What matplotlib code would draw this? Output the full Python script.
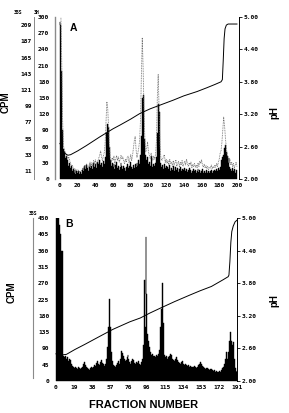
"""
Two-panel isoelectric focusing profile (3H / 35S CPM and pH vs fraction number)
"""

import numpy as np
import matplotlib
matplotlib.use('Agg')
import matplotlib.pyplot as plt
from matplotlib.lines import Line2D

# ---- panel A data ----
fracA = list(range(0, 201))
h3A = [290, 285, 200, 90, 55, 48, 38, 42, 30, 35, 25, 30, 20, 24, 15, 18, 12, 16, 10, 14,
       11, 15, 9, 13, 10, 16, 20, 14, 24, 18, 26, 20, 15, 22, 28, 20, 25, 18, 30, 22,
       27, 20, 32, 24, 28, 35, 26, 30, 22, 34, 28, 40, 55, 85, 102, 96, 60, 35, 25, 30,
       22, 28, 18, 26, 32, 20, 24, 16, 22, 30, 24, 18, 25, 20, 15, 22, 28, 20, 16, 24,
       32, 22, 18, 26, 20, 28, 22, 30, 25, 35, 28, 45, 80, 150, 156, 130, 75, 45, 35, 40,
       28, 32, 25, 42, 30, 22, 28, 24, 30, 40, 85, 138, 125, 60, 30, 22, 26, 18, 28, 20,
       24, 16, 22, 18, 26, 15, 20, 17, 24, 14, 19, 22, 16, 20, 13, 18, 22, 15, 19, 14,
       17, 21, 15, 18, 13, 16, 20, 14, 17, 12, 15, 19, 14, 16, 12, 15, 18, 13, 16, 12,
       14, 18, 12, 15, 11, 14, 17, 12, 15, 11, 14, 16, 12, 15, 13, 17, 14, 18, 15, 20,
       17, 22, 28, 35, 40, 45, 58, 63, 50, 42, 30, 38, 22, 18, 15, 20, 14, 18, 12, 16,
       14]
s35A = [230, 225, 160, 80, 45, 40, 36, 34, 30, 27, 30, 25, 21, 18, 19, 15, 13, 14, 11, 13,
        10, 12, 9, 11, 10, 13, 15, 14, 19, 16, 21, 17, 15, 20, 23, 18, 22, 17, 25, 21,
        26, 19, 23, 25, 29, 33, 38, 30, 25, 31, 35, 48, 78, 105, 95, 70, 42, 27, 23, 29,
        25, 31, 21, 27, 32, 25, 30, 23, 27, 32, 27, 30, 25, 21, 27, 23, 29, 31, 22, 27,
        33, 25, 32, 42, 52, 58, 40, 29, 35, 42, 52, 80, 140, 192, 150, 90, 52, 37, 42, 50,
        37, 32, 27, 35, 29, 25, 31, 27, 33, 52, 110, 142, 95, 47, 29, 25, 27, 31, 33, 22,
        27, 21, 25, 19, 27, 21, 23, 17, 25, 19, 22, 26, 17, 21, 24, 16, 23, 19, 25, 17,
        21, 24, 19, 27, 21, 17, 22, 19, 23, 15, 20, 17, 21, 16, 19, 15, 22, 17, 24, 21,
        26, 19, 16, 20, 15, 18, 14, 17, 13, 16, 15, 19, 14, 17, 15, 19, 16, 21, 17, 23,
        27, 35, 38, 50, 68, 84, 72, 55, 42, 33, 29, 23, 27, 19, 23, 17, 21, 15, 19, 23,
        17]
phFracA = [0, 3, 6, 9, 12, 20, 30, 45, 60, 68, 80, 90, 102, 115, 128, 140, 155, 166, 175,
           182, 183.5, 184.5, 185.5, 186.5, 188, 190, 200]
phA = [2.66, 2.55, 2.47, 2.44, 2.45, 2.52, 2.62, 2.78, 2.93, 3.00, 3.11, 3.21, 3.30, 3.38,
       3.46, 3.54, 3.62, 3.69, 3.75, 3.80, 3.84, 4.20, 4.60, 4.78, 4.85, 4.87, 4.87]

# ---- panel B data ----
fracB = list(range(0, 192))
s35B = [270, 460, 460, 460, 430, 405, 360, 360, 70, 65, 68, 60, 66, 55, 62, 58, 48, 42, 40, 38,
        36, 40, 35, 33, 38, 36, 32, 35, 40, 48, 52, 45, 38, 35, 32, 30, 35, 38, 33, 36,
        40, 45, 42, 50, 56, 48, 44, 52, 58, 50, 46, 42, 48, 60, 95, 150, 225, 210, 150, 80,
        55, 45, 42, 38, 45, 50, 55, 48, 62, 82, 78, 70, 62, 55, 58, 66, 72, 60, 52, 48,
        55, 62, 58, 50, 46, 52, 50, 55, 48, 45, 52, 60, 100, 280, 150, 398, 240, 130, 110, 95,
        80, 72, 75, 68, 70, 65, 72, 68, 75, 85, 150, 200, 270, 160, 90, 72, 65, 68, 62, 66,
        70, 75, 72, 62, 58, 55, 60, 65, 58, 52, 50, 48, 52, 55, 50, 47, 45, 48, 44, 42,
        45, 40, 42, 40, 38, 40, 42, 38, 36, 40, 44, 48, 52, 50, 46, 42, 38, 36, 34, 35,
        36, 33, 30, 32, 34, 30, 28, 30, 26, 28, 25, 24, 26, 28, 25, 30, 35, 40, 48, 60,
        80, 60, 80, 110, 135, 110, 100, 108, 60, 35, 25, 28]
phFracB = [0, 6, 11, 20, 30, 46, 60, 78, 89, 99, 110, 125, 141, 152, 164, 176, 181.7, 182.5,
           183.5, 184.5, 185.5, 187, 189, 191]
phB = [2.50, 2.48, 2.49, 2.58, 2.67, 2.82, 2.95, 3.09, 3.16, 3.25, 3.34, 3.46, 3.58, 3.66,
       3.74, 3.86, 3.92, 3.95, 4.20, 4.55, 4.75, 4.85, 4.93, 4.96]

# ---- tick labels ----
xticksA = [0, 20, 40, 60, 80, 100, 120, 140, 160, 180, 200]
yticksA3H = [0, 30, 60, 90, 120, 150, 180, 210, 240, 270, 300]
yticksA35S = [11, 33, 55, 77, 99, 121, 143, 165, 187, 209]
xticksB = [0, 19.1, 38.2, 57.3, 76.4, 95.5, 114.6, 133.7, 152.8, 171.9, 191]
xlabelsB = ['0', '19', '38', '57', '76', '96', '115', '134', '153', '172', '191']
yticksB = [0, 45, 90, 135, 180, 225, 270, 315, 360, 405, 450]
phTicks = [2.00, 2.60, 3.20, 3.80, 4.40, 5.00]

W, H = 289, 413
mono = 'DejaVu Sans Mono'
tickfs = 4.5
grey = '#8a8a8a'


def px(x0, y0, x1, y1):
    """pixel box (left, top, right, bottom) -> figure rect"""
    return [x0 / W, 1 - y1 / H, (x1 - x0) / W, (y1 - y0) / H]


def styleTicks(ax):
    for lab in ax.get_xticklabels() + ax.get_yticklabels():
        lab.set_fontfamily(mono)
        lab.set_fontweight('bold')
        lab.set_fontsize(tickfs)


def histo(ax, x, y):
    # solid step histogram, one bin per fraction
    ax.fill_between(x, y, step='mid', color='black', linewidth=0.3, edgecolor='black')


fig = plt.figure(figsize=(W / 100, H / 100), dpi=100)

# ================= panel A =================
axA = fig.add_axes(px(55, 17, 239, 179))
histo(axA, fracA, h3A)
axA.set_xlim(-5.6, 202.3)
axA.set_ylim(0, 300)
axA.set_xticks(xticksA)
axA.set_yticks(yticksA3H)
axA.tick_params(axis='x', length=0, pad=3)
axA.tick_params(axis='y', length=0, pad=4.2)
for s in ['top', 'right', 'bottom']:
    axA.spines[s].set_visible(False)
axA.spines['left'].set_color(grey)
axA.spines['left'].set_linewidth(1.0)
styleTicks(axA)

# 35S scale
axS = axA.twinx()
axS.plot(fracA, s35A, color='#6a6a6a', linestyle=(0, (1, 1)), linewidth=0.6)
axS.set_ylim(0, 220)
axS.yaxis.tick_left()
axS.set_yticks(yticksA35S)
axS.tick_params(axis='y', length=0, pad=1.5)
for s in ['top', 'right', 'bottom']:
    axS.spines[s].set_visible(False)
axS.spines['left'].set_position(('outward', 15))
axS.spines['left'].set_linestyle((0, (1, 1)))
axS.spines['left'].set_color(grey)
axS.spines['left'].set_linewidth(0.7)
styleTicks(axS)

# pH
axP = axA.twinx()
axP.plot(phFracA, phA, color='black', linewidth=0.7)
axP.set_ylim(2.0, 5.0)
axP.set_yticks(phTicks)
axP.set_yticklabels(['%.2f' % v for v in phTicks])
axP.tick_params(axis='y', length=2, width=0.6, pad=1.5)
for s in ['top', 'left', 'bottom']:
    axP.spines[s].set_visible(False)
axP.spines['right'].set_linewidth(0.7)
styleTicks(axP)

fig.text(73 / W, 1 - 28 / H, 'A', fontsize=7.5, fontweight='bold',
         family='Liberation Sans', ha='center', va='center')
fig.text(18 / W, 1 - 12 / H, '35S', fontsize=3.5, family=mono, fontweight='bold',
         ha='center', va='center')
fig.text(37 / W, 1 - 12 / H, '3H', fontsize=3.5, family=mono, fontweight='bold',
         ha='center', va='center')
fig.text(6 / W, 1 - 102 / H, 'CPM', fontsize=7, fontweight='bold', family='Liberation Sans',
         rotation=90, ha='center', va='center')
fig.text(274 / W, 1 - 113 / H, 'pH', fontsize=7, fontweight='bold', family='Liberation Sans',
         rotation=90, ha='center', va='center')

# ================= panel B =================
axB = fig.add_axes(px(52, 218, 237, 381))
histo(axB, fracB, s35B)
axB.set_xlim(-4.2, 191.0)
axB.set_ylim(0, 450)
axB.set_xticks(xticksB)
axB.set_xticklabels(xlabelsB)
axB.set_yticks(yticksB)
axB.tick_params(axis='x', length=0, pad=3)
axB.tick_params(axis='y', length=0, pad=2)
for s in ['top', 'right', 'bottom', 'left']:
    axB.spines[s].set_visible(False)
styleTicks(axB)
fig.add_artist(Line2D([33 / W, 33 / W], [1 - 218 / H, 1 - 378 / H], color=grey, linewidth=0.8))

axBP = axB.twinx()
axBP.plot(phFracB, phB, color='black', linewidth=0.7)
axBP.set_ylim(2.0, 5.0)
axBP.set_yticks(phTicks)
axBP.set_yticklabels(['%.2f' % v for v in phTicks])
axBP.tick_params(axis='y', length=2, width=0.6, pad=1.5)
for s in ['top', 'left', 'bottom']:
    axBP.spines[s].set_visible(False)
axBP.spines['right'].set_linewidth(0.7)
styleTicks(axBP)

fig.text(69 / W, 1 - 224 / H, 'B', fontsize=7.5, fontweight='bold',
         family='Liberation Sans', ha='center', va='center')
fig.text(33 / W, 1 - 213 / H, '35S', fontsize=3.5, family=mono, fontweight='bold',
         ha='center', va='center')
fig.text(12 / W, 1 - 292 / H, 'CPM', fontsize=7, fontweight='bold', family='Liberation Sans',
         rotation=90, ha='center', va='center')
fig.text(274 / W, 1 - 301 / H, 'pH', fontsize=7, fontweight='bold', family='Liberation Sans',
         rotation=90, ha='center', va='center')
fig.text(144 / W, 1 - 405 / H, 'FRACTION NUMBER', fontsize=8, fontweight='bold',
         family='Liberation Sans', ha='center', va='center')

fig.savefig('out.png', dpi=100)
